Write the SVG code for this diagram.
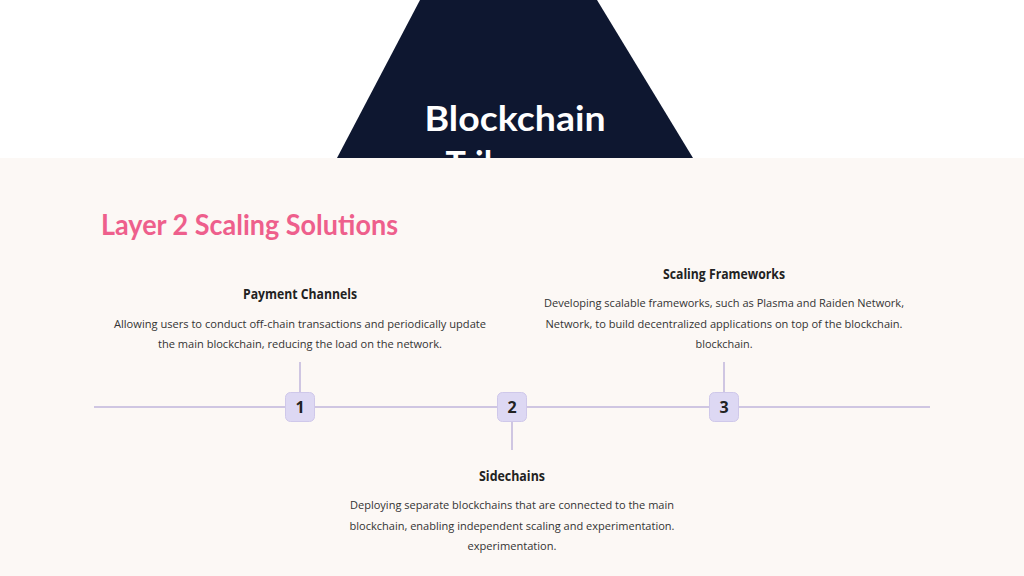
<svg xmlns="http://www.w3.org/2000/svg" width="1024" height="576" viewBox="0 0 1024 576">
<style>
.h{font-family:"Open Sans","Liberation Sans",sans-serif;font-weight:700;font-size:13.5px;fill:#222;text-anchor:middle}
.b{font-family:"Open Sans","Liberation Sans",sans-serif;font-size:11px;fill:#333;text-anchor:middle}
.n{font-family:"Open Sans","Liberation Sans",sans-serif;font-weight:700;font-size:16px;fill:#222;text-anchor:middle}
.box{fill:#DDD8F3;stroke:#CFC8EA;stroke-width:1}
.ln{stroke:#CFC6E2;stroke-width:2;fill:none}
</style>
<rect x="0" y="0" width="1024" height="576" rx="14" fill="#FFFFFF"/>
<g id="trilemma">
<polygon points="420,0 597,0 693,158 337,158" fill="#0E1730"/>
<text x="515" y="131" font-family="Lato,'Open Sans',sans-serif" font-weight="700" font-size="34" fill="#FFFFFF" text-anchor="middle" textLength="181" lengthAdjust="spacingAndGlyphs">Blockchain</text>
<text x="515" y="176" font-family="Lato,'Open Sans',sans-serif" font-weight="700" font-size="34" fill="#FFFFFF" text-anchor="middle">Trilemma</text>
</g>
<rect x="0" y="158" width="1024" height="418" fill="#FCF8F5"/>
<text id="title" x="101" y="235" font-family="Lato,'Open Sans',sans-serif" font-weight="700" font-size="28" fill="#EE5F8C" textLength="297" lengthAdjust="spacingAndGlyphs">Layer 2 Scaling Solutions</text>
<g id="connectors">
<line class="ln" x1="94" y1="407" x2="930" y2="407"/>
<line class="ln" x1="300" y1="362" x2="300" y2="392"/>
<line class="ln" x1="512" y1="421" x2="512" y2="450"/>
<line class="ln" x1="724" y1="362" x2="724" y2="392"/>
</g>
<g id="step1">
<rect class="box" x="285.5" y="392.5" width="29" height="29" rx="5"/>
<text class="n" x="300" y="413">1</text>
<text class="h" x="300" y="299" textLength="114" lengthAdjust="spacingAndGlyphs">Payment Channels</text>
<text class="b" x="300" y="328" textLength="372" lengthAdjust="spacingAndGlyphs">Allowing users to conduct off-chain transactions and periodically update</text>
<text class="b" x="300" y="348" textLength="284" lengthAdjust="spacingAndGlyphs">the main blockchain, reducing the load on the network.</text>
</g>
<g id="step2">
<rect class="box" x="497.5" y="392.5" width="29" height="29" rx="5"/>
<text class="n" x="512" y="413">2</text>
<text class="h" x="512" y="481" textLength="66" lengthAdjust="spacingAndGlyphs">Sidechains</text>
<text class="b" x="512" y="509" textLength="324" lengthAdjust="spacingAndGlyphs">Deploying separate blockchains that are connected to the main</text>
<text class="b" x="512" y="530" textLength="325" lengthAdjust="spacingAndGlyphs">blockchain, enabling independent scaling and experimentation.</text>
<text class="b" x="512" y="550" textLength="89" lengthAdjust="spacingAndGlyphs">experimentation.</text>
</g>
<g id="step3">
<rect class="box" x="709.5" y="392.5" width="29" height="29" rx="5"/>
<text class="n" x="724" y="413">3</text>
<text class="h" x="724" y="279" textLength="122" lengthAdjust="spacingAndGlyphs">Scaling Frameworks</text>
<text class="b" x="724" y="307" textLength="360" lengthAdjust="spacingAndGlyphs">Developing scalable frameworks, such as Plasma and Raiden Network,</text>
<text class="b" x="724" y="328" textLength="357" lengthAdjust="spacingAndGlyphs">Network, to build decentralized applications on top of the blockchain.</text>
<text class="b" x="724" y="348" textLength="57" lengthAdjust="spacingAndGlyphs">blockchain.</text>
</g>
</svg>
